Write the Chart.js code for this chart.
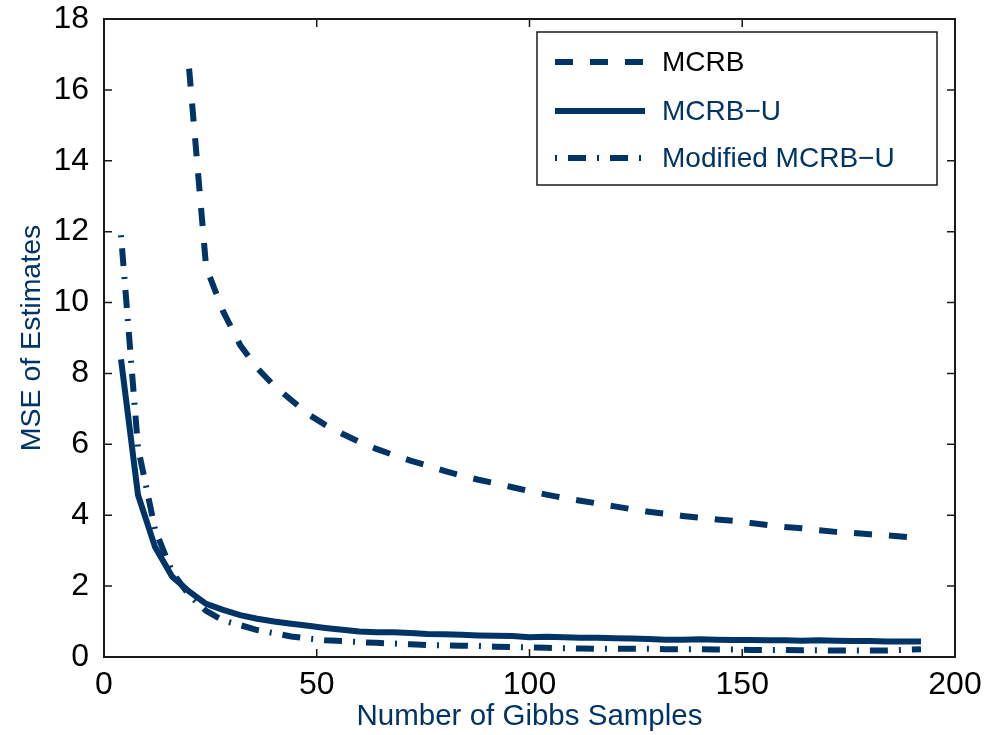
<!DOCTYPE html>
<html>
<head>
<meta charset="utf-8">
<script src="https://cdn.jsdelivr.net/npm/chart.js@4/dist/chart.umd.min.js"></script>
<style>
  html, body { margin: 0; padding: 0; background: #fff; }
  #wrap { width: 996px; height: 735px; }
</style>
</head>
<body>
<div id="wrap"><canvas id="mse"></canvas></div>
<script>
// Gibbs sample counts on the x axis
const gibbsSamples = [4, 8, 12, 16, 20, 24, 28, 32, 36, 40, 44, 48, 52, 56, 60, 64, 68, 72, 76, 80,
  84, 88, 92, 96, 100, 104, 108, 112, 116, 120, 124, 128, 132, 136, 140, 144, 148, 152, 156, 160,
  164, 168, 172, 176, 180, 184, 188, 192];
const mcrbSamples = [20, 24, 28, 32, 36, 40, 44, 48, 52, 56, 60, 64, 68, 72, 76, 80,
  84, 88, 92, 96, 100, 104, 108, 112, 116, 120, 124, 128, 132, 136, 140, 144, 148, 152, 156, 160,
  164, 168, 172, 176, 180, 184, 188, 192];

const mcrb = [16.6, 11.0, 9.75, 8.8, 8.15, 7.65, 7.25, 6.85, 6.55, 6.3,
  6.07, 5.87, 5.7, 5.54, 5.4, 5.25, 5.12, 5.0, 4.9, 4.79,
  4.68, 4.58, 4.49, 4.41, 4.33, 4.25, 4.17, 4.1, 4.04, 3.98,
  3.93, 3.88, 3.84, 3.78, 3.72, 3.67, 3.63, 3.58, 3.53, 3.5,
  3.46, 3.43, 3.39, 3.36];

const mcrbU = [8.4, 4.57, 3.1, 2.27, 1.85, 1.5, 1.33, 1.18, 1.08, 1.0,
  0.94, 0.88, 0.82, 0.77, 0.72, 0.7, 0.7, 0.68, 0.65, 0.64,
  0.63, 0.61, 0.6, 0.59, 0.56, 0.57, 0.56, 0.54, 0.54, 0.53,
  0.52, 0.51, 0.49, 0.49, 0.5, 0.49, 0.48, 0.48, 0.47, 0.47,
  0.46, 0.47, 0.46, 0.45, 0.45, 0.44, 0.44, 0.44];

const modifiedMcrbU = [11.9, 5.9, 3.6, 2.4, 1.75, 1.3, 1.03, 0.9, 0.76, 0.67,
  0.58, 0.52, 0.47, 0.45, 0.42, 0.4, 0.38, 0.36, 0.34, 0.33,
  0.32, 0.31, 0.29, 0.28, 0.27, 0.26, 0.25, 0.24, 0.23, 0.23,
  0.23, 0.23, 0.22, 0.22, 0.22, 0.21, 0.21, 0.2, 0.2, 0.2,
  0.19, 0.19, 0.18, 0.18, 0.18, 0.18, 0.2, 0.22];

const seriesLabels = ["MCRB", "MCRB\u2212U", "Modified MCRB\u2212U"];
const xTicks = [0, 50, 100, 150, 200];
const yTicks = [0, 2, 4, 6, 8, 10, 12, 14, 16, 18];

const NAVY = "#003466";
const FONT = "'Liberation Sans', Arial, Helvetica, sans-serif";

function pts(xs, ys) {
  return xs.map((x, i) => ({ x: x, y: ys[i] }));
}

// MATLAB style box with inward ticks on all four sides
const boxPlugin = {
  id: "box",
  afterDraw(chart) {
    const { ctx, chartArea: a, scales } = chart;
    const len = 8;
    ctx.save();
    ctx.strokeStyle = "#1a1a1a";
    ctx.lineWidth = 1.5;
    ctx.beginPath();
    xTicks.forEach(v => {
      const px = scales.x.getPixelForValue(v);
      ctx.moveTo(px, a.bottom); ctx.lineTo(px, a.bottom - len);
      ctx.moveTo(px, a.top); ctx.lineTo(px, a.top + len);
    });
    yTicks.forEach(v => {
      const py = scales.y.getPixelForValue(v);
      ctx.moveTo(a.left, py); ctx.lineTo(a.left + len, py);
      ctx.moveTo(a.right, py); ctx.lineTo(a.right - len, py);
    });
    ctx.stroke();
    ctx.lineWidth = 2;
    ctx.strokeRect(a.left, a.top, a.right - a.left, a.bottom - a.top);
    ctx.restore();
  }
};

// legend box in the upper right
const legendPlugin = {
  id: "boxLegend",
  afterDraw(chart) {
    const ctx = chart.ctx;
    const bx = 537, by = 32, bw = 400, bh = 153;
    const rows = [62, 111, 158];
    const textColors = ["#000", NAVY, NAVY];
    ctx.save();
    ctx.fillStyle = "#fff";
    ctx.fillRect(bx, by, bw, bh);
    ctx.strokeStyle = "#1a1a1a";
    ctx.lineWidth = 1.5;
    ctx.strokeRect(bx, by, bw, bh);
    chart.data.datasets.forEach((ds, i) => {
      ctx.strokeStyle = ds.borderColor;
      ctx.lineWidth = ds.borderWidth;
      ctx.setLineDash(ds.borderDash || []);
      ctx.lineDashOffset = ds.borderDashOffset || 0;
      ctx.beginPath();
      ctx.moveTo(555, rows[i]);
      ctx.lineTo(645, rows[i]);
      ctx.stroke();
      ctx.setLineDash([]);
      ctx.fillStyle = textColors[i];
      ctx.font = "28px " + FONT;
      ctx.textBaseline = "middle";
      ctx.fillText(ds.label, 662, rows[i] + 1);
    });
    ctx.restore();
  }
};

new Chart(document.getElementById("mse"), {
  type: "line",
  data: {
    datasets: [
      { label: seriesLabels[0], data: pts(mcrbSamples, mcrb), borderColor: NAVY, borderWidth: 6, borderDash: [18, 17] },
      { label: seriesLabels[1], data: pts(gibbsSamples, mcrbU), borderColor: NAVY, borderWidth: 6 },
      { label: seriesLabels[2], data: pts(gibbsSamples, modifiedMcrbU), borderColor: NAVY, borderWidth: 6, borderDash: [18, 11, 2, 11], borderDashOffset: 29 }
    ]
  },
  options: {
    responsive: true,
    maintainAspectRatio: false,
    animation: false,
    layout: { padding: { top: 19, right: 41, left: 0, bottom: 0 } },
    elements: { point: { radius: 0 }, line: { tension: 0, borderCapStyle: "butt", fill: false } },
    plugins: { legend: { display: false }, tooltip: { enabled: false } },
    scales: {
      x: {
        type: "linear", min: 0, max: 200,
        afterBuildTicks: s => { s.ticks = xTicks.map(v => ({ value: v })); },
        afterFit: s => { s.height = 78; s.paddingLeft = 0; s.paddingRight = 0; },
        grid: { display: false, drawTicks: false },
        border: { display: false },
        ticks: { color: "#000", font: { family: FONT, size: 32 }, padding: 9, maxRotation: 0 },
        title: { display: true, text: "Number of Gibbs Samples", color: NAVY, font: { family: FONT, size: 29.5 }, padding: { top: 0, bottom: 0 } }
      },
      y: {
        min: 0, max: 18,
        afterBuildTicks: s => { s.ticks = yTicks.map(v => ({ value: v })); },
        afterFit: s => { s.width = 104; s.paddingTop = 0; s.paddingBottom = 0; },
        grid: { display: false, drawTicks: false },
        border: { display: false },
        ticks: { color: "#000", font: { family: FONT, size: 32 }, padding: 15 },
        title: { display: true, text: "MSE of Estimates", color: NAVY, font: { family: FONT, size: 28.5 }, padding: { top: 15, bottom: 0 } }
      }
    }
  },
  plugins: [boxPlugin, legendPlugin]
});
</script>
</body>
</html>
